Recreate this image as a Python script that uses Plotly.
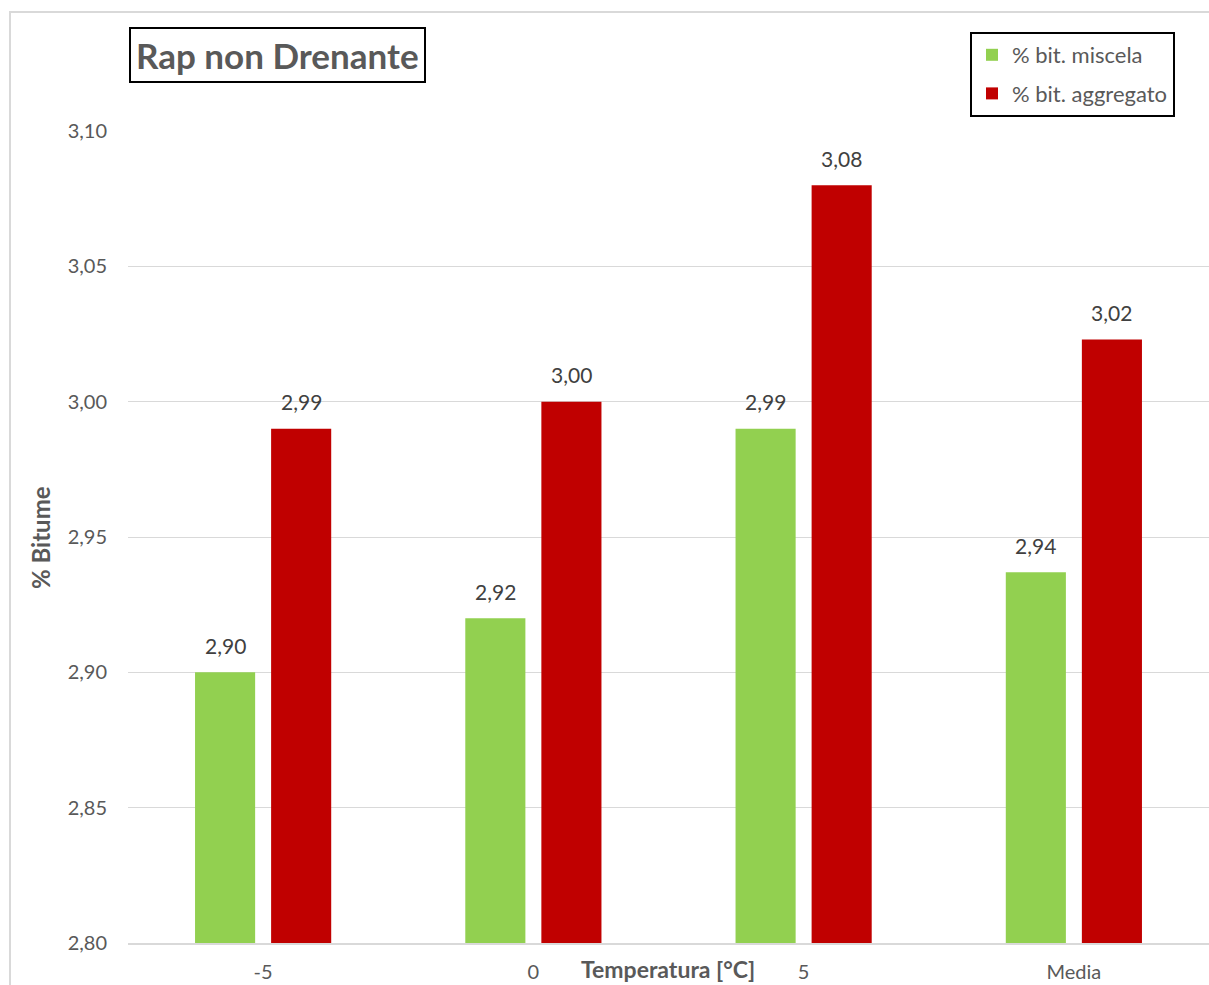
import plotly.graph_objects as go

# Categories (temperature) and bitumen percentages
categorie = ["-5", "0", "5", "Media"]
bit_miscela = [2.90, 2.92, 2.99, 2.937]
bit_aggregato = [2.99, 3.00, 3.08, 3.023]
y_ticks = [2.80, 2.85, 2.90, 2.95, 3.00, 3.05, 3.10]

VERDE = "#92D050"
ROSSO = "#C00000"
GRIGIO = "#595959"
FONT = "Lato"

W, H = 1209, 985
ML, MR, MT, MB = 128, 0, 131, 42
pw, ph = W - ML - MR, H - MT - MB


def px_x(x):
    return (x - ML) / pw


def px_y(y):
    return (H - MB - y) / ph


fig = go.Figure()
fig.add_trace(go.Bar(
    x=categorie, y=bit_miscela, name="% bit. miscela",
    marker=dict(color=VERDE, line=dict(width=0)),
    legendgroup="a",
))
fig.add_trace(go.Bar(
    x=categorie, y=bit_aggregato, name="% bit. aggregato",
    marker=dict(color=ROSSO, line=dict(width=0)),
    legendgroup="b",
))

annotations = []
# value labels above each bar
for serie, shift in ((bit_miscela, -38), (bit_aggregato, 38)):
    for i, v in enumerate(serie):
        annotations.append(dict(
            x=i, y=v, xref="x", yref="y", text=f"{v:.2f}".replace(".", ","),
            showarrow=False, xshift=shift, yshift=27,
            font=dict(family=FONT, size=21, color="#404040"),
        ))

# chart title in a framed box
annotations.append(dict(
    x=px_x(129), y=px_y(27), xref="paper", yref="paper",
    xanchor="left", yanchor="top", showarrow=False,
    text="<b>Rap non Drenante</b>",
    font=dict(family=FONT, size=35, color=GRIGIO),
    bordercolor="black", borderwidth=2, borderpad=5, bgcolor="white",
))
# axis titles
annotations.append(dict(
    x=px_x(668), y=px_y(969), xref="paper", yref="paper",
    xanchor="center", yanchor="middle",
    showarrow=False, text="<b>Temperatura [°C]</b>",
    font=dict(family=FONT, size=23, color=GRIGIO),
))
annotations.append(dict(
    x=px_x(40), y=px_y(538), xref="paper", yref="paper",
    xanchor="center", yanchor="middle",
    showarrow=False, text="<b>% Bitume</b>", textangle=-90,
    font=dict(family=FONT, size=24, color=GRIGIO),
))

fig.update_layout(
    width=W, height=H,
    margin=dict(l=ML, r=MR, t=MT, b=MB),
    paper_bgcolor="white", plot_bgcolor="white",
    separators=", ",
    barmode="group", bargap=0.437, bargroupgap=0.21,
    font=dict(family=FONT, size=19, color=GRIGIO),
    showlegend=True,
    legend=dict(
        x=px_x(1175), y=px_y(32), xanchor="right", yanchor="top",
        bordercolor="black", borderwidth=2, bgcolor="white",
        font=dict(family=FONT, size=22, color=GRIGIO),
        tracegroupgap=7, itemwidth=30,
    ),
    annotations=annotations,
    shapes=[dict(
        type="rect", xref="paper", yref="paper",
        x0=px_x(10), x1=px_x(1230), y0=px_y(1000), y1=px_y(12),
        line=dict(color="#D9D9D9", width=2), layer="below",
    )],
)

fig.update_xaxes(
    type="category",
    showgrid=False, showline=True, linecolor="#D9D9D9", linewidth=2,
    ticks="", ticklabelstandoff=10,
    tickfont=dict(family=FONT, size=20, color=GRIGIO),
)
fig.update_yaxes(
    range=[2.80, 3.10], tickvals=y_ticks, tickformat=".2f",
    showgrid=True, gridcolor="#D9D9D9", gridwidth=1,
    zeroline=False, showline=False, ticks="", ticklabelstandoff=20,
    tickfont=dict(family=FONT, size=20, color=GRIGIO),
)

fig.write_html("out.html")
